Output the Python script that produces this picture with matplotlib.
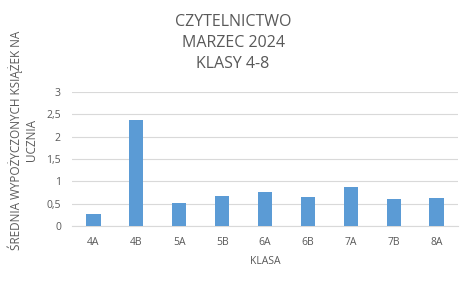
import matplotlib
matplotlib.use("Agg")
import matplotlib.pyplot as plt
from matplotlib.ticker import FuncFormatter

klasy = ["4A", "4B", "5A", "5B", "6A", "6B", "7A", "7B", "8A"]
srednia = [0.27, 2.37, 0.51, 0.67, 0.76, 0.65, 0.87, 0.60, 0.63]

plt.rcParams['font.family'] = ['Open Sans', 'DejaVu Sans']
szary = "#595959"

fig = plt.figure(figsize=(4.71, 2.83), dpi=100)
ax = fig.add_axes([72 / 471, 1 - 226 / 283, 386 / 471, 134 / 283])

ax.bar(klasy, srednia, width=0.33, color="#5b9bd5", zorder=3)
ax.set_ylim(0, 3)
ax.set_xlim(-0.5, len(klasy) - 0.5)
ax.set_yticks([0, 0.5, 1, 1.5, 2, 2.5, 3])
ax.yaxis.set_major_formatter(FuncFormatter(lambda v, p: f"{v:g}".replace(".", ",")))
ax.grid(axis="y", color="#d9d9d9", linewidth=0.8, zorder=0)
for s in ["top", "right", "left"]:
    ax.spines[s].set_visible(False)
ax.spines["bottom"].set_color("#d9d9d9")
ax.tick_params(length=0, labelsize=7.5, colors=szary, pad=8)

ax.set_xlabel("KLASA", fontsize=7.5, color=szary, labelpad=6)
fig.text(23 / 471, 1 - 140 / 283, "ŚREDNIA WYPOŻYCZONYCH KSIĄŻEK NA\nUCZNIA",
         rotation=90, ha="center", va="center", fontsize=8.5, color=szary,
         multialignment="center", linespacing=1.25)
fig.text(233 / 471, 1 - 43 / 283, "CZYTELNICTWO\nMARZEC 2024\nKLASY 4-8",
         ha="center", va="center", fontsize=11.5, color=szary, linespacing=1.45)

fig.savefig("out.png", dpi=100)
